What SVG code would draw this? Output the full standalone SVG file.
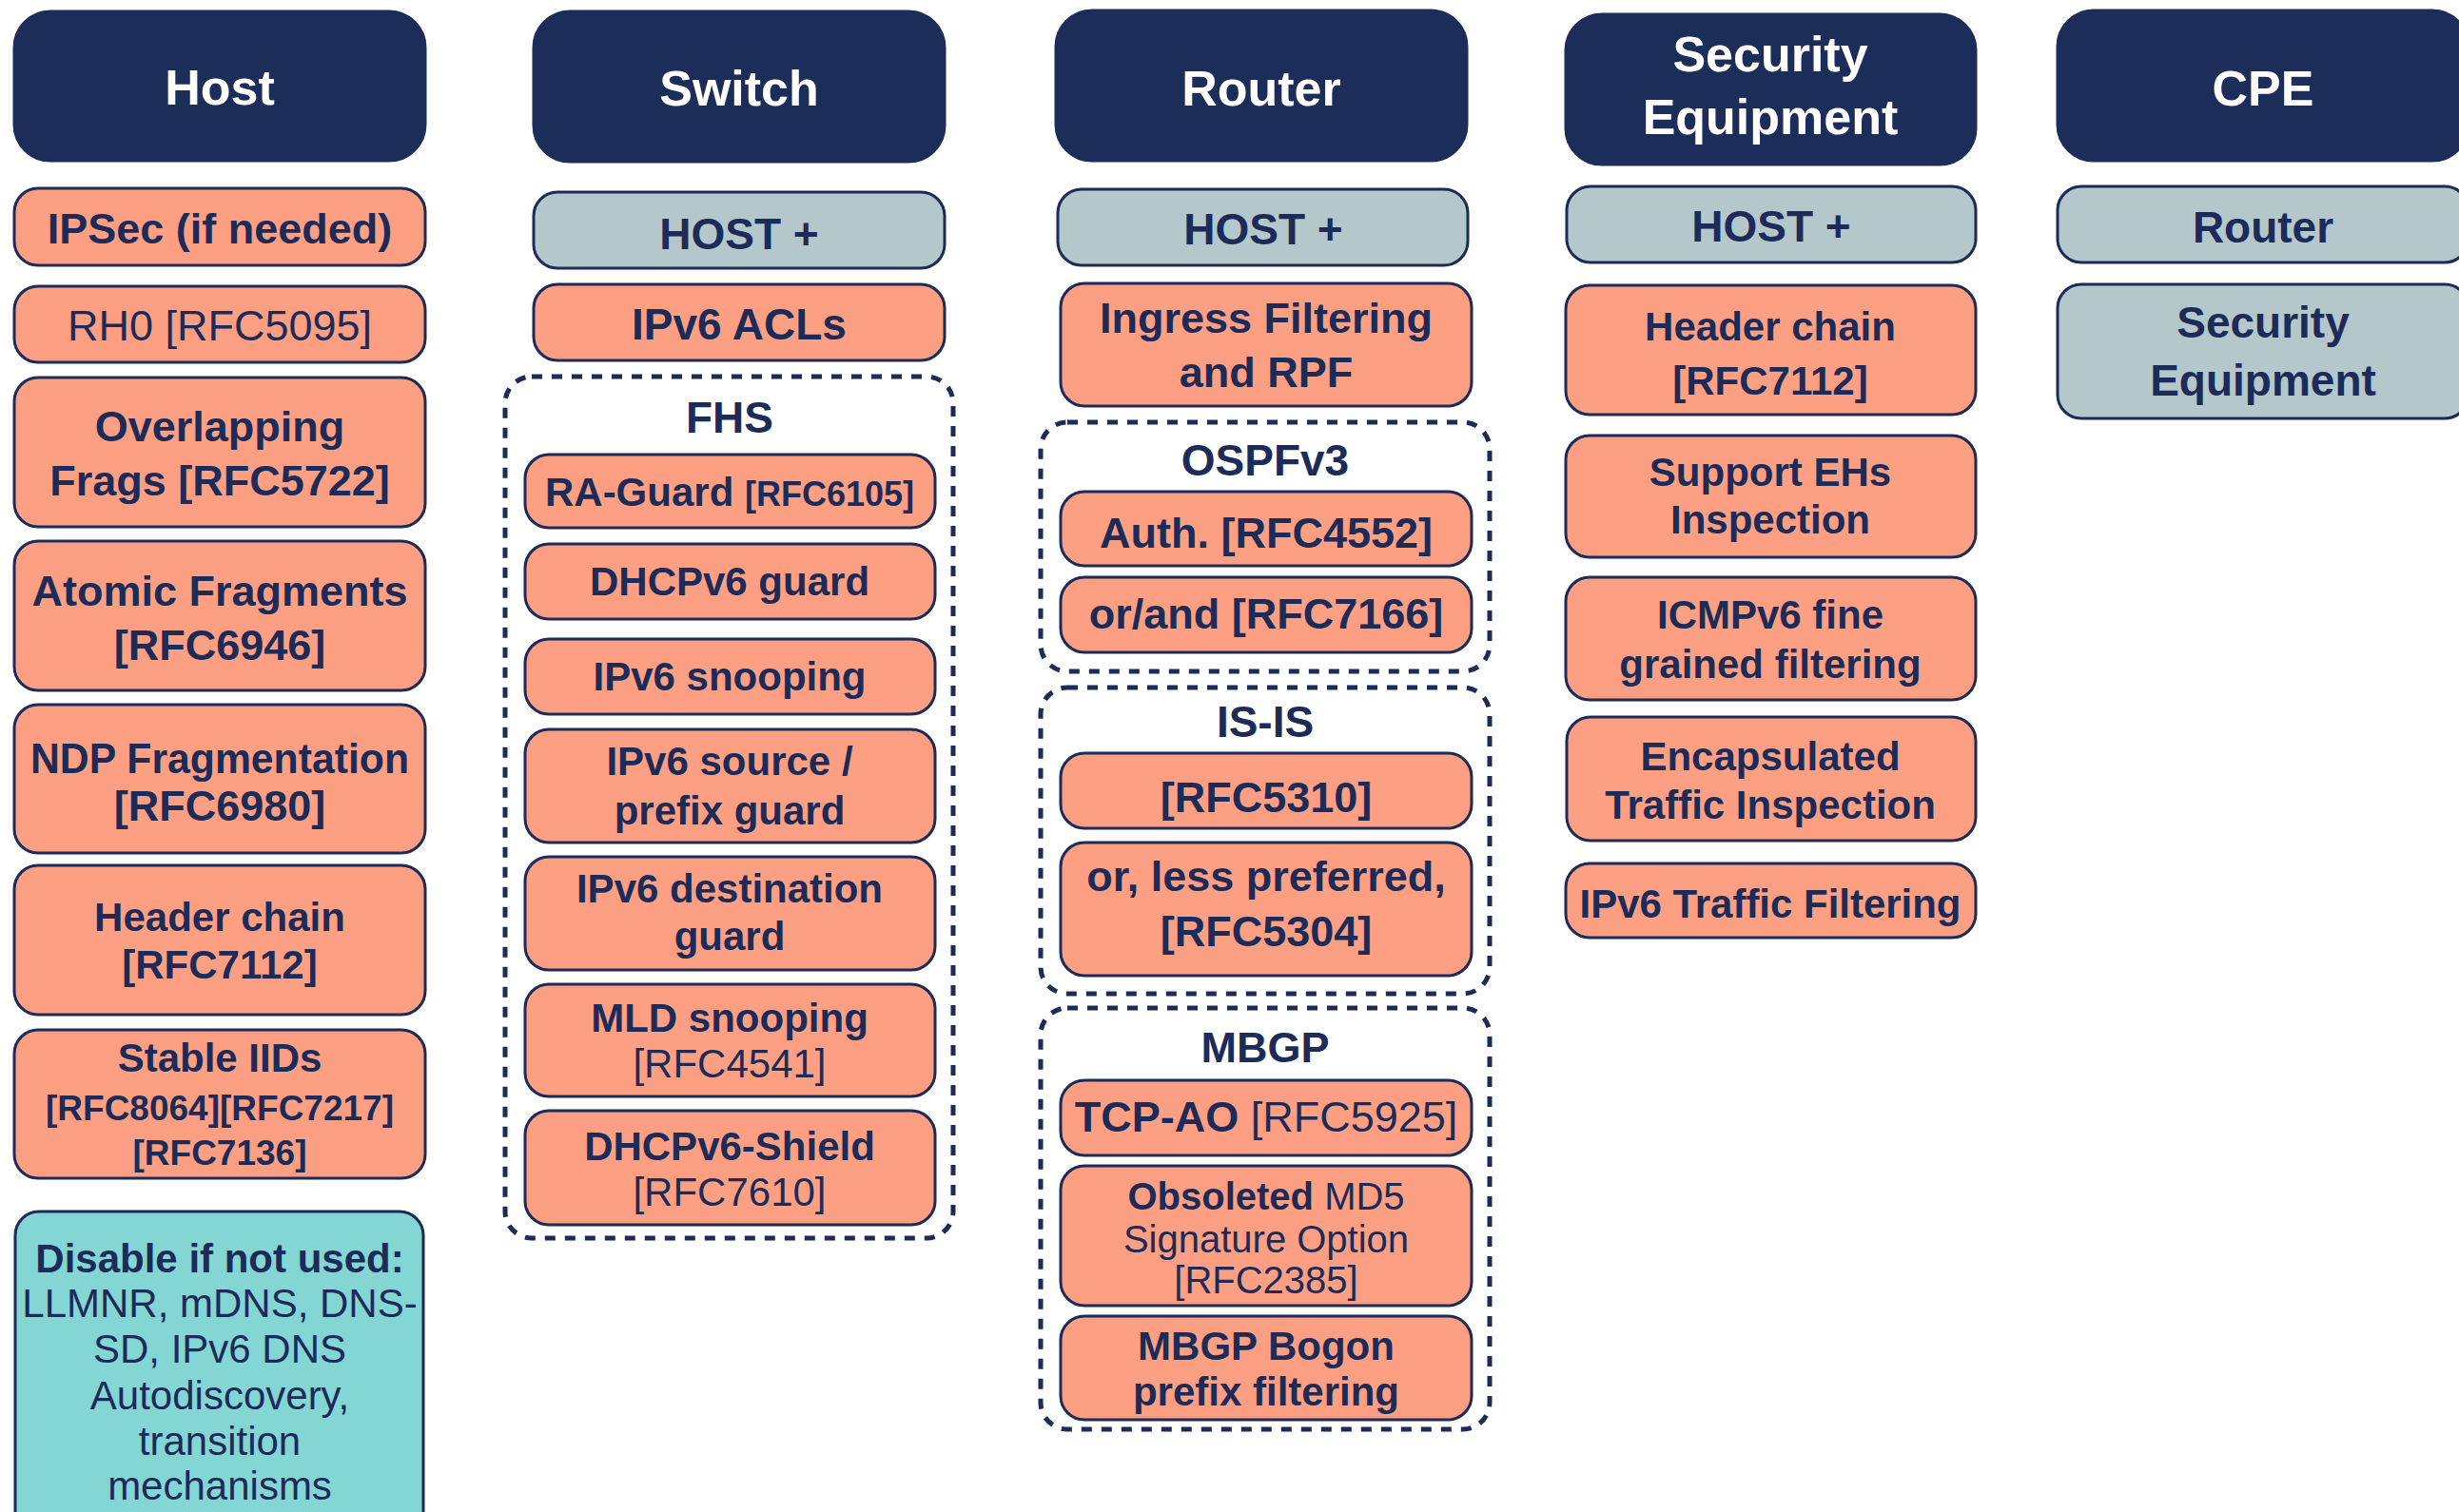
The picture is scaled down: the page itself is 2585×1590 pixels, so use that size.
<svg xmlns="http://www.w3.org/2000/svg" width="2585" height="1590" viewBox="0 0 2585 1590">
<style>
text{font-family:"Liberation Sans",Arial,Helvetica,sans-serif;fill:#1c2b57;text-anchor:middle;font-weight:bold}
.hdr rect{fill:#1c2d59;stroke:#1c2d59;stroke-width:3}
.hdr text{fill:#ffffff;font-size:52px}
.sal rect{fill:#fd9f82;stroke:#1c2b57;stroke-width:3}
.gry rect{fill:#b4c8cb;stroke:#1c2b57;stroke-width:3}
.teal rect{fill:#83d6d3;stroke:#1c2b57;stroke-width:3}
.dash{fill:none;stroke:#1c2b57;stroke-width:5;stroke-dasharray:11 10}
.reg{font-weight:normal}
.f46{font-size:46px}.f45{font-size:45px}.f44{font-size:44px}.f42{font-size:42px}.f40{font-size:40px}.f37{font-size:37px}.f36{font-size:36px}
</style>
<rect width="2585" height="1590" fill="#ffffff"/>
<g id="connectors"/>

<!-- Host column -->
<g id="host-hdr" class="hdr"><rect x="15" y="12" width="432" height="157" rx="38"/><text x="231" y="110">Host</text></g>
<g id="host-ipsec" class="sal"><rect x="15" y="198" width="432" height="81" rx="25"/><text class="f45" x="231" y="256">IPSec (if needed)</text></g>
<g id="host-rh0" class="sal"><rect x="15" y="301" width="432" height="80" rx="25"/><text class="f45 reg" x="231" y="358">RH0 [RFC5095]</text></g>
<g id="host-overlap" class="sal"><rect x="15" y="397" width="432" height="157" rx="25"/><text class="f45" x="231" y="464">Overlapping</text><text class="f45" x="231" y="521">Frags [RFC5722]</text></g>
<g id="host-atomic" class="sal"><rect x="15" y="569" width="432" height="157" rx="25"/><text class="f45" x="231" y="637">Atomic Fragments</text><text class="f45" x="231" y="694">[RFC6946]</text></g>
<g id="host-ndp" class="sal"><rect x="15" y="741" width="432" height="156" rx="25"/><text class="f45" x="231" y="813" textLength="398" lengthAdjust="spacingAndGlyphs">NDP Fragmentation</text><text class="f45" x="231" y="863">[RFC6980]</text></g>
<g id="host-hchain" class="sal"><rect x="15" y="910" width="432" height="157" rx="25"/><text class="f42" x="231" y="979">Header chain</text><text class="f42" x="231" y="1029">[RFC7112]</text></g>
<g id="host-stable" class="sal"><rect x="15" y="1083" width="432" height="156" rx="25"/><text class="f42" x="231" y="1127">Stable IIDs</text><text class="f37" x="231" y="1178">[RFC8064][RFC7217]</text><text class="f37" x="231" y="1225">[RFC7136]</text></g>
<g id="host-disable" class="teal"><rect x="16" y="1274" width="429" height="340" rx="25"/><text class="f42" x="231" y="1338">Disable if not used:</text><text class="f42 reg" x="231" y="1385">LLMNR, mDNS, DNS-</text><text class="f42 reg" x="231" y="1433">SD, IPv6 DNS</text><text class="f42 reg" x="231" y="1482">Autodiscovery,</text><text class="f42 reg" x="231" y="1530">transition</text><text class="f42 reg" x="231" y="1577">mechanisms</text></g>

<!-- Switch column -->
<g id="switch-hdr" class="hdr"><rect x="561" y="12" width="432" height="158" rx="38"/><text x="777" y="111">Switch</text></g>
<g id="switch-host" class="gry"><rect x="561" y="202" width="432" height="80" rx="25"/><text class="f46" x="777" y="262">HOST +</text></g>
<g id="switch-acl" class="sal"><rect x="561" y="299" width="432" height="80" rx="25"/><text class="f46" x="777" y="357">IPv6 ACLs</text></g>
<g id="switch-fhs"><rect class="dash" x="531" y="396" width="471" height="906" rx="28"/><text class="f46" x="767" y="455">FHS</text></g>
<g id="fhs-raguard" class="sal"><rect x="552" y="478" width="431" height="77" rx="25"/><text class="f42" x="767" y="532">RA-Guard <tspan class="f36">[RFC6105]</tspan></text></g>
<g id="fhs-dhcpguard" class="sal"><rect x="552" y="572" width="431" height="79" rx="25"/><text class="f42" x="767" y="626">DHCPv6 guard</text></g>
<g id="fhs-snoop" class="sal"><rect x="552" y="672" width="431" height="79" rx="25"/><text class="f42" x="767" y="726">IPv6 snooping</text></g>
<g id="fhs-source" class="sal"><rect x="552" y="767" width="431" height="119" rx="25"/><text class="f42" x="767" y="815">IPv6 source /</text><text class="f42" x="767" y="867">prefix guard</text></g>
<g id="fhs-dest" class="sal"><rect x="552" y="901" width="431" height="119" rx="25"/><text class="f42" x="767" y="949">IPv6 destination</text><text class="f42" x="767" y="999">guard</text></g>
<g id="fhs-mld" class="sal"><rect x="552" y="1035" width="431" height="118" rx="25"/><text class="f42" x="767" y="1085">MLD snooping</text><text class="f42 reg" x="767" y="1133">[RFC4541]</text></g>
<g id="fhs-shield" class="sal"><rect x="552" y="1168" width="431" height="120" rx="25"/><text class="f42" x="767" y="1220">DHCPv6-Shield</text><text class="f42 reg" x="767" y="1268">[RFC7610]</text></g>

<!-- Router column -->
<g id="router-hdr" class="hdr"><rect x="1110" y="11" width="432" height="158" rx="38"/><text x="1326" y="111">Router</text></g>
<g id="router-host" class="gry"><rect x="1112" y="199" width="431" height="80" rx="25"/><text class="f46" x="1328" y="257">HOST +</text></g>
<g id="router-ingress" class="sal"><rect x="1115" y="298" width="432" height="129" rx="25"/><text class="f45" x="1331" y="350">Ingress Filtering</text><text class="f45" x="1331" y="407">and RPF</text></g>
<g id="router-ospf"><rect class="dash" x="1094" y="444" width="472" height="262" rx="28"/><text class="f46" x="1330" y="500">OSPFv3</text></g>
<g id="ospf-auth" class="sal"><rect x="1115" y="517" width="432" height="78" rx="25"/><text class="f45" x="1331" y="576">Auth. [RFC4552]</text></g>
<g id="ospf-orand" class="sal"><rect x="1115" y="607" width="432" height="79" rx="25"/><text class="f45" x="1331" y="661">or/and [RFC7166]</text></g>
<g id="router-isis"><rect class="dash" x="1094" y="723" width="472" height="322" rx="28"/><text class="f46" x="1330" y="775">IS-IS</text></g>
<g id="isis-5310" class="sal"><rect x="1115" y="792" width="432" height="79" rx="25"/><text class="f45" x="1331" y="854">[RFC5310]</text></g>
<g id="isis-5304" class="sal"><rect x="1115" y="886" width="432" height="140" rx="25"/><text class="f45" x="1331" y="937">or, less preferred,</text><text class="f45" x="1331" y="995">[RFC5304]</text></g>
<g id="router-mbgp"><rect class="dash" x="1094" y="1060" width="472" height="443" rx="28"/><text class="f45" x="1330" y="1117">MBGP</text></g>
<g id="mbgp-tcpao" class="sal"><rect x="1115" y="1136" width="432" height="79" rx="25"/><text class="f45" x="1331" y="1190">TCP-AO <tspan class="reg">[RFC5925]</tspan></text></g>
<g id="mbgp-md5" class="sal"><rect x="1115" y="1226" width="432" height="147" rx="25"/><text class="f40" x="1331" y="1272">Obsoleted <tspan class="reg">MD5</tspan></text><text class="f40 reg" x="1331" y="1317">Signature Option</text><text class="f40 reg" x="1331" y="1360">[RFC2385]</text></g>
<g id="mbgp-bogon" class="sal"><rect x="1115" y="1384" width="432" height="109" rx="25"/><text class="f42" x="1331" y="1430">MBGP Bogon</text><text class="f42" x="1331" y="1478">prefix filtering</text></g>

<!-- Security Equipment column -->
<g id="sec-hdr" class="hdr"><rect x="1646" y="15" width="431" height="158" rx="38"/><text x="1861" y="75">Security</text><text x="1861" y="141">Equipment</text></g>
<g id="sec-host" class="gry"><rect x="1647" y="196" width="430" height="80" rx="25"/><text class="f46" x="1862" y="254">HOST +</text></g>
<g id="sec-hchain" class="sal"><rect x="1646" y="300" width="431" height="136" rx="25"/><text class="f42" x="1861" y="358">Header chain</text><text class="f42" x="1861" y="415">[RFC7112]</text></g>
<g id="sec-ehs" class="sal"><rect x="1646" y="458" width="431" height="128" rx="25"/><text class="f42" x="1861" y="511">Support EHs</text><text class="f42" x="1861" y="561">Inspection</text></g>
<g id="sec-icmp" class="sal"><rect x="1646" y="607" width="431" height="129" rx="25"/><text class="f42" x="1861" y="661">ICMPv6 fine</text><text class="f42" x="1861" y="713">grained filtering</text></g>
<g id="sec-encap" class="sal"><rect x="1647" y="754" width="430" height="130" rx="25"/><text class="f42" x="1861" y="810">Encapsulated</text><text class="f42" x="1861" y="861">Traffic Inspection</text></g>
<g id="sec-filter" class="sal"><rect x="1646" y="908" width="431" height="78" rx="25"/><text class="f42" x="1861" y="965" textLength="401" lengthAdjust="spacingAndGlyphs">IPv6 Traffic Filtering</text></g>

<!-- CPE column -->
<g id="cpe-hdr" class="hdr"><rect x="2163" y="11" width="432" height="158" rx="38"/><text x="2379" y="111">CPE</text></g>
<g id="cpe-router" class="gry"><rect x="2163" y="196" width="432" height="80" rx="25"/><text class="f46" x="2379" y="255">Router</text></g>
<g id="cpe-sec" class="gry"><rect x="2163" y="299" width="432" height="141" rx="25"/><text class="f46" x="2379" y="355">Security</text><text class="f46" x="2379" y="416">Equipment</text></g>
</svg>
